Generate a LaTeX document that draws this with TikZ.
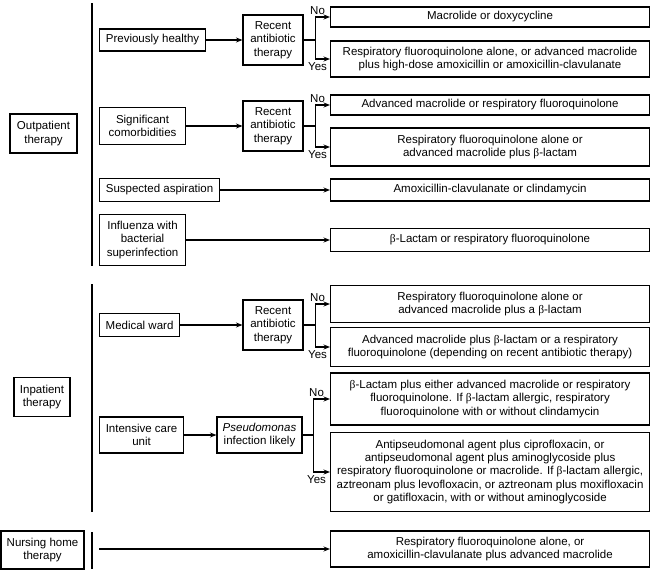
\documentclass[tikz,border=0pt]{standalone}
\usepackage{fontspec}
\setmainfont{Liberation Sans}
\newfontfamily\symfont{Liberation Serif}
\usetikzlibrary{positioning, calc, arrows.meta}
\newcommand{\bl}{{\symfont β}}

\begin{document}
\begin{tikzpicture}[
    x=1pt, y=-1pt,
    >={Stealth[length=6.5pt, width=5pt]},
    line width=1.1pt,
    every node/.style={font=\fontsize{11.5}{13.3}\selectfont},
    % Styles
    setting/.style={draw, align=center, inner sep=2pt},
    cond/.style={draw, anchor=west, align=center, inner sep=2pt},
    decide/.style={draw, align=center, inner sep=1pt},
    regimen/.style={draw, anchor=west, align=center, minimum width=319pt,
        inner sep=2pt},
    arr/.style={->},
    bar/.style={line width=2.2pt},
    answer/.style={inner sep=0pt},
]
\useasboundingbox (0,0) rectangle (650,570);

% ===== Outpatient therapy =====
\node[setting, minimum width=67pt, minimum height=39pt] (outpt) at (43.5,133.5)
    {Outpatient\\therapy};
\draw[bar] (92,3) -- (92,266);

% --- Previously healthy ---
\node[cond, minimum width=106pt, minimum height=22pt] (healthy) at (99,40)
    {Previously healthy};
\node[decide, minimum width=60pt, minimum height=50pt] (recent1) at (273,40)
    {Recent\\antibiotic\\therapy};
\draw[arr] (healthy) -- (recent1);

\node[regimen, minimum height=20pt] (macdoxy) at (330,17)
    {Macrolide or doxycycline};
\node[regimen, minimum height=36pt] (fqhigh) at (330,59)
    {Respiratory fluoroquinolone alone, or advanced macrolide\\
     plus high-dose amoxicillin or amoxicillin-clavulanate};

\draw (recent1.east) -- ++(12,0) coordinate (fork1);
\draw[arr] (fork1) |- (macdoxy.west);
\draw[arr] (fork1) |- (fqhigh.west);
\node[answer, anchor=south] (no1) at ($(fork1 |- macdoxy.west)+(2,-2)$) {No};
\node[answer, anchor=north] (yes1) at ($(fork1 |- fqhigh.west)+(2,3)$) {Yes};

% --- Significant comorbidities ---
\node[cond, minimum width=86pt, minimum height=37pt] (comorb) at (99,126)
    {Significant\\comorbidities};
\node[decide, minimum width=60pt, minimum height=50pt] (recent2) at (273,126)
    {Recent\\antibiotic\\therapy};
\draw[arr] (comorb) -- (recent2);

\node[regimen, minimum height=20pt] (advfq) at (330,105)
    {Advanced macrolide or respiratory fluoroquinolone};
\node[regimen, minimum height=38pt] (fqbeta) at (330,147)
    {Respiratory fluoroquinolone alone or\\
     advanced macrolide plus \bl-lactam};

\draw (recent2.east) -- ++(12,0) coordinate (fork2);
\draw[arr] (fork2) |- (advfq.west);
\draw[arr] (fork2) |- (fqbeta.west);
\node[answer, anchor=south] (no2) at ($(fork2 |- advfq.west)+(2,-2)$) {No};
\node[answer, anchor=north] (yes2) at ($(fork2 |- fqbeta.west)+(2,3)$) {Yes};

% --- Suspected aspiration ---
\node[cond, minimum width=120pt, minimum height=23pt] (aspir) at (99,190)
    {Suspected aspiration};
\node[regimen, minimum height=22pt] (amoxclin) at (330,190)
    {Amoxicillin-clavulanate or clindamycin};
\draw[arr] (aspir) -- (amoxclin);

% --- Influenza ---
\node[cond, minimum width=86pt, minimum height=51pt] (flu) at (99,240)
    {Influenza with\\bacterial\\superinfection};
\node[regimen, minimum height=23pt] (betafq) at (330,240)
    {\bl-Lactam or respiratory fluoroquinolone};
\draw[arr] (flu) -- (betafq);

% ===== Inpatient therapy =====
\node[setting, minimum width=56pt, minimum height=39pt] (inpt) at (42,397)
    {Inpatient\\therapy};
\draw[bar] (92,284) -- (92,512);

% --- Medical ward ---
\node[cond, minimum width=80pt, minimum height=23pt] (ward) at (99,325)
    {Medical ward};
\node[decide, minimum width=60pt, minimum height=50pt] (recent3) at (273,325)
    {Recent\\antibiotic\\therapy};
\draw[arr] (ward) -- (recent3);

\node[regimen, minimum height=37pt] (wardno) at (330,304)
    {Respiratory fluoroquinolone alone or\\
     advanced macrolide plus a \bl-lactam};
\node[regimen, minimum height=39pt] (wardyes) at (330,347)
    {Advanced macrolide plus \bl-lactam or a respiratory\\
     fluoroquinolone (depending on recent antibiotic therapy)};

\draw (recent3.east) -- ++(12,0) coordinate (fork3);
\draw[arr] (fork3) |- (wardno.west);
\draw[arr] (fork3) |- (wardyes.west);
\node[answer, anchor=south] (no3) at ($(fork3 |- wardno.west)+(2,-2)$) {No};
\node[answer, anchor=north] (yes3) at ($(fork3 |- wardyes.west)+(2,3)$) {Yes};

% --- Intensive care unit ---
\node[cond, minimum width=84pt, minimum height=36pt] (icu) at (99,435)
    {Intensive care\\unit};
\node[decide, minimum width=85pt, minimum height=36pt] (pseudo) at (259.5,435)
    {\textit{Pseudomonas}\\infection likely};
\draw[arr] (icu) -- (pseudo);

\node[regimen, minimum height=52pt] (icuno) at (330,399)
    {\bl-Lactam plus either advanced macrolide or respiratory\\
     fluoroquinolone. If \bl-lactam allergic, respiratory\\
     fluoroquinolone with or without clindamycin};
\node[regimen, minimum height=79pt] (icuyes) at (330,472)
    {Antipseudomonal agent plus ciprofloxacin, or\\
     antipseudomonal agent plus aminoglycoside plus\\
     respiratory fluoroquinolone or macrolide. If \bl-lactam allergic,\\
     aztreonam plus levofloxacin, or aztreonam plus moxifloxacin\\
     or gatifloxacin, with or without aminoglycoside};

\draw (pseudo.east) -- ++(11,0) coordinate (fork4);
\draw[arr] (fork4) |- (icuno.west);
\draw[arr] (fork4) |- (icuyes.west);
\node[answer, anchor=south] (no4) at ($(fork4 |- icuno.west)+(3,-2)$) {No};
\node[answer, anchor=north] (yes4) at ($(fork4 |- icuyes.west)+(3,3)$) {Yes};

% ===== Nursing home therapy =====
\node[setting, minimum width=83pt, minimum height=38pt] (nursing) at (42.5,550)
    {Nursing home\\therapy};
\draw[bar] (92,532) -- (92,569);

\coordinate (nstart) at (99,549);
\node[regimen, minimum height=36pt] (nursereg) at (330,549)
    {Respiratory fluoroquinolone alone, or\\
     amoxicillin-clavulanate plus advanced macrolide};
\draw[arr] (nstart) -- (nursereg.west);

\end{tikzpicture}
\end{document}
